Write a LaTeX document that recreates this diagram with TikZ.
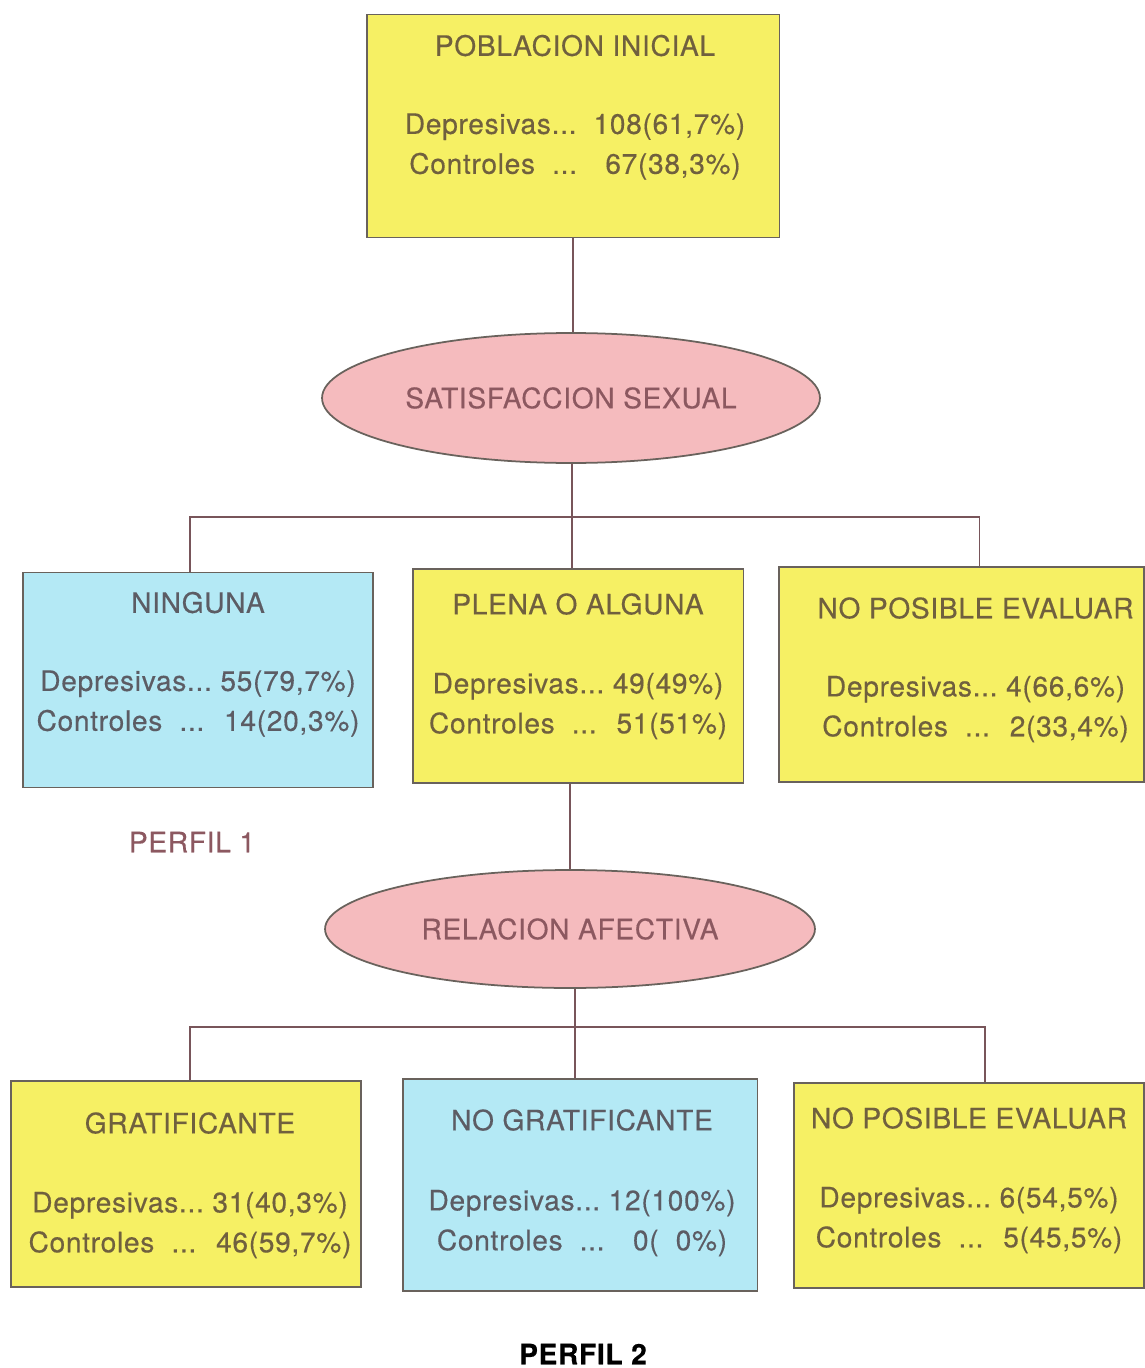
\documentclass[tikz,border=0pt]{standalone}
\usepackage{fontspec}
\setmainfont{TeX Gyre Heros}[LetterSpace=2.5, FakeBold=0.4]
\usetikzlibrary{shapes.geometric,positioning,calc}

\definecolor{amarillo}{RGB}{246,240,100}
\definecolor{celeste}{RGB}{180,233,245}
\definecolor{rosa}{RGB}{245,187,190}
\definecolor{borde}{RGB}{105,98,92}
\definecolor{linea}{RGB}{120,85,90}
\definecolor{texto}{RGB}{112,96,62}
\definecolor{textoazul}{RGB}{92,92,100}
\definecolor{textorosa}{RGB}{140,88,96}

\tikzset{
    caja/.style={draw=borde, line width=1.1pt, inner sep=0pt},
    amar/.style={caja, fill=amarillo},
    azul/.style={caja, fill=celeste},
    elipse/.style={ellipse, draw=borde, fill=rosa, line width=1pt, inner sep=0pt,
        text=textorosa, font=\fontsize{16}{20}\selectfont},
    titulo/.style={font=\fontsize{16}{20}\selectfont},
    datos/.style={font=\fontsize{16}{22.7}\selectfont, align=center},
    rama/.style={draw=linea, line width=0.9pt},
}

\begin{document}
\begin{tikzpicture}[x=0.02cm, y=-0.02cm]
    \useasboundingbox[fill=white] (0,0) rectangle (1144,1368);

    % poblacion inicial
    \node[amar, minimum width=8.26cm, minimum height=4.46cm] (pob) at (573,126) {};
    \node[titulo, text=texto] (pobT) at ($(pob.north)+(2,32)$) {POBLACION INICIAL};
    \node[datos, text=texto] (pobD) at ($(pob.north)+(2,133)$)
        {Depresivas...\ \ 108(61,7\%)\\Controles \ ... \ \ 67(38,3\%)};

    \node[elipse, minimum width=9.96cm, minimum height=2.6cm] (sat) at (571,398) {SATISFACCION SEXUAL};

    % primer nivel
    \node[azul, minimum width=7cm, minimum height=4.3cm] (nin) at (198,680) {};
    \node[titulo, text=textoazul] (ninT) at ($(nin.north)+(0,31)$) {NINGUNA};
    \node[datos, text=textoazul] (ninD) at ($(nin.north)+(0,132)$)
        {Depresivas...\ 55(79,7\%)\\Controles \ ... \ 14(20,3\%)};

    \node[amar, minimum width=6.62cm, minimum height=4.28cm] (ple) at (578,676) {};
    \node[titulo, text=texto] (pleT) at ($(ple.north)+(0,36)$) {PLENA O ALGUNA};
    \node[datos, text=texto] (pleD) at ($(ple.north)+(0,138)$)
        {Depresivas...\ 49(49\%)\\Controles \ ... \ 51(51\%)};

    \node[amar, minimum width=7.3cm, minimum height=4.3cm] (noev1) at (961.5,674.5) {};
    \node[titulo, text=texto] (noev1T) at ($(noev1.north)+(14,42)$) {NO POSIBLE EVALUAR};
    \node[datos, text=texto] (noev1D) at ($(noev1.north)+(14,143)$)
        {Depresivas...\ 4(66,6\%)\\Controles \ ... \ 2(33,4\%)};

    \node[text=textorosa, titulo] (perf1) at (192,842) {PERFIL 1};

    \node[elipse, minimum width=9.8cm, minimum height=2.36cm] (rel) at (570,929) {RELACION AFECTIVA};

    % segundo nivel
    \node[amar, minimum width=7cm, minimum height=4.12cm] (gra) at (186,1184) {};
    \node[titulo, text=texto] (graT) at ($(gra.north)+(4,43)$) {GRATIFICANTE};
    \node[datos, text=texto] (graD) at ($(gra.north)+(4,145)$)
        {Depresivas...\ 31(40,3\%)\\Controles \ ... \ 46(59,7\%)};

    \node[azul, minimum width=7.1cm, minimum height=4.24cm] (nog) at (580,1185) {};
    \node[titulo, text=textoazul] (nogT) at ($(nog.north)+(2,42)$) {NO GRATIFICANTE};
    \node[datos, text=textoazul] (nogD) at ($(nog.north)+(2,145)$)
        {Depresivas...\ 12(100\%)\\Controles \ ... \ \ 0( \ 0\%)};

    \node[amar, minimum width=7cm, minimum height=4.1cm] (noev2) at (969,1185.5) {};
    \node[titulo, text=texto] (noev2T) at ($(noev2.north)+(0,36)$) {NO POSIBLE EVALUAR};
    \node[datos, text=texto] (noev2D) at ($(noev2.north)+(0,138)$)
        {Depresivas...\ 6(54,5\%)\\Controles \ ... \ 5(45,5\%)};

    \node[font=\fontsize{16}{20}\selectfont\bfseries, inner sep=1pt] (perf2) at (583,1354) {PERFIL 2};

    % ramas
    \coordinate (c1) at (572,517);
    \coordinate (c2) at (575,1027);
    \draw[rama] (pob.south) -- (pob.south |- sat.north);
    \draw[rama] (c1 |- sat.south) -- (c1) -- (c1 |- ple.north);
    \draw[rama] ([xshift=-0.16cm]nin.north) |- (c1) -| ([xshift=0.36cm]noev1.north);
    \draw[rama] (rel.north |- ple.south) -- (rel.north);
    \draw[rama] (c2 |- rel.south) -- (c2) -- (c2 |- nog.north);
    \draw[rama] ([xshift=0.08cm]gra.north) |- (c2) -| ([xshift=0.32cm]noev2.north);
\end{tikzpicture}
\end{document}
